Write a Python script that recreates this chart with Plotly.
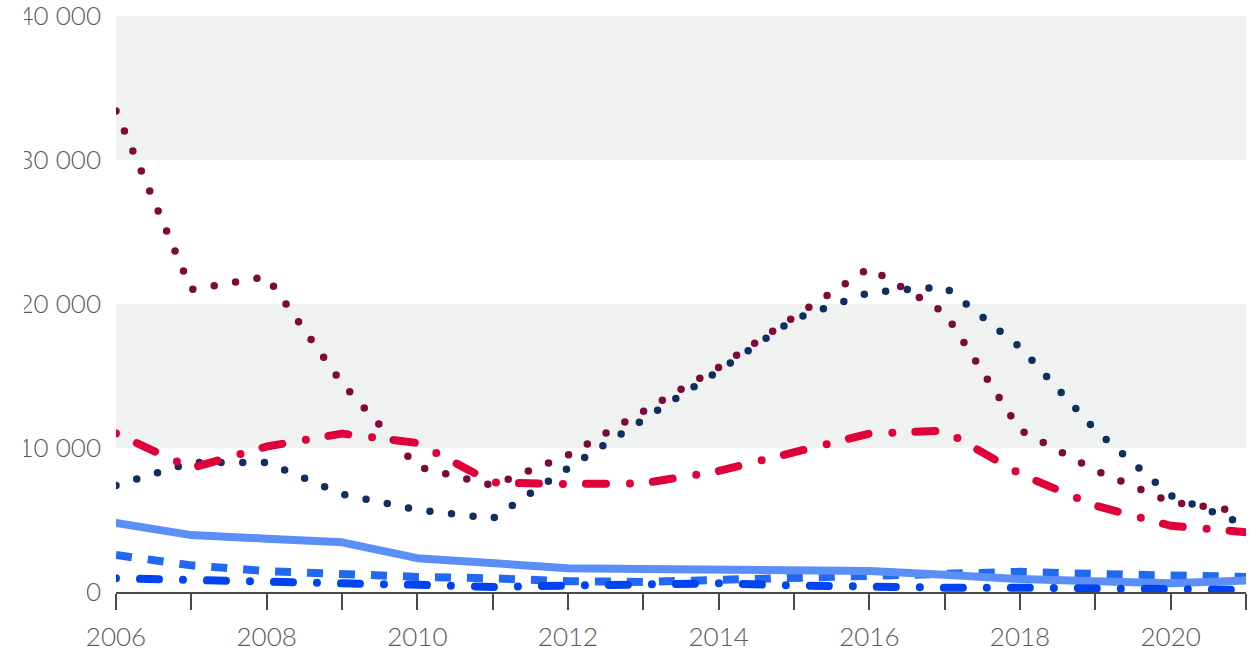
import json
import plotly.graph_objects as go

# Years on the horizontal axis
years = list(range(2006, 2022))

# Series values (number of cases)
maroon_dotted = [33400, 21000, 21900, 14500, 8700, 7400, 9500, 12600,
                 15600, 19100, 22500, 19400, 11250, 8450, 6250, 5550]
navy_dotted = [7400, 9000, 9000, 6800, 5700, 5100, 8600, 12000,
               15350, 18950, 20800, 21200, 17000, 11250, 6700, 4650]
red_dashdot = [11000, 8600, 10100, 11000, 10350, 7600, 7500, 7550,
               8400, 9700, 11000, 11200, 8200, 6000, 4600, 4150]
light_solid = [4800, 3950, 3700, 3450, 2350, 1950, 1650, 1600,
               1550, 1500, 1450, 1200, 900, 750, 600, 800]
blue_dashed = [2570, 1850, 1450, 1200, 1050, 950, 750, 700,
               850, 1050, 1200, 1350, 1400, 1250, 1100, 1050]
bright_dashdot = [950, 800, 700, 600, 500, 350, 450, 550,
                  600, 450, 350, 300, 300, 250, 200, 150]

# Axis labels
y_tickvals = [0, 10000, 20000, 30000, 40000]
y_ticktext = ["0", "10 000", "20 000", "30 000", "40 000"]
x_ticktext = [str(y) if y % 2 == 0 else "" for y in years]

# (values, colour, width, dash pattern, round caps)
series = [
    (blue_dashed, "#2168F2", 8, "16px,16px", False),
    (light_solid, "#5B8FF7", 8, "solid", True),
    (bright_dashdot, "#0043F0", 8, "0px,24px,19px,24px", True),
    (navy_dotted, "#0F2F60", 7.5, "0px,21.7px", True),
    (maroon_dotted, "#7E0A3D", 7.5, "0px,21.7px", True),
    (red_dashdot, "#E0003A", 8, "0px,23px,20px,24px", True),
]

fig = go.Figure()
for vals, color, width, dash, _ in series:
    fig.add_trace(go.Scatter(
        x=years, y=vals, mode="lines",
        line=dict(color=color, width=width, dash=dash),
        cliponaxis=False, hoverinfo="skip", showlegend=False,
    ))

# Alternating shaded bands
for lo, hi in [(10000, 20000), (30000, 40000)]:
    fig.add_shape(type="rect", xref="paper", yref="y", x0=0, x1=1, y0=lo, y1=hi,
                  fillcolor="#F0F1F1", line=dict(width=0), layer="below")

# Left edge mask over the y labels
fig.add_shape(type="rect", xref="paper", yref="paper",
              x0=-0.2, x1=(24 - 116) / 1130, y0=-0.2, y1=1.1,
              fillcolor="white", line=dict(width=0), layer="above")

font = dict(family="Lato", size=26, color="#595959", weight=300)
fig.update_layout(
    width=1260, height=651,
    margin=dict(l=116, r=14, t=16, b=59, autoexpand=False),
    paper_bgcolor="white", plot_bgcolor="white",
    font=font,
    xaxis=dict(range=[2006, 2021], tickvals=years, ticktext=x_ticktext,
               showgrid=False, zeroline=False, showline=True,
               linecolor="#4A4A4A", linewidth=2,
               ticks="outside", ticklen=16, tickwidth=2, tickcolor="#4A4A4A",
               ticklabelstandoff=5, tickfont=font, automargin=False),
    yaxis=dict(range=[0, 40000], tickvals=y_tickvals, ticktext=y_ticktext,
               showgrid=False, zeroline=False, showline=False, ticks="",
               ticklabelstandoff=14, ticklabeloverflow="allow",
               tickfont=font, automargin=False),
)

round_caps = json.dumps([s[4] for s in series])
post_js = """
var gd = document.getElementById('{plot_id}');
var rc = %s;
gd.querySelectorAll('.scatterlayer .trace').forEach(function(t, i) {
  if (rc[i]) {
    t.querySelectorAll('path.js-line').forEach(function(p) {
      p.style.strokeLinecap = 'round';
      p.style.strokeLinejoin = 'round';
    });
  }
});
""" % round_caps

fig.write_html("out.html", post_script=post_js)
